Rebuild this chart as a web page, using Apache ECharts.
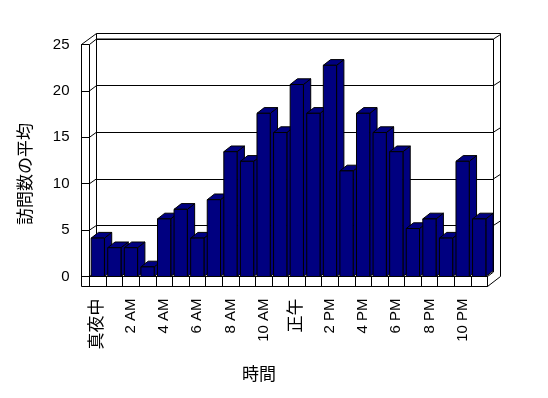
<!DOCTYPE html>
<html>
<head>
<meta charset="utf-8">
<title>時間別の訪問数</title>
<script src="https://cdn.jsdelivr.net/npm/echarts@6/dist/echarts.min.js"></script>
<style>
  html, body { margin: 0; padding: 0; background: #fff; }
  #main { width: 548px; height: 398px; }
</style>
</head>
<body>
<div id="main"></div>
<script>
// データ
var hours = ['真夜中', '1 AM', '2 AM', '3 AM', '4 AM', '5 AM', '6 AM', '7 AM', '8 AM', '9 AM', '10 AM', '11 AM',
    '正午', '1 PM', '2 PM', '3 PM', '4 PM', '5 PM', '6 PM', '7 PM', '8 PM', '9 PM', '10 PM', '11 PM'];
var visits = [4, 3, 3, 1, 6, 7, 4, 8, 13, 12, 17, 15, 20, 17, 22, 11, 17, 15, 13, 5, 6, 4, 12, 6];
var yTicks = [0, 5, 10, 15, 20, 25];

var FONT = "'Liberation Sans', 'Noto Sans CJK JP', sans-serif";
var W = 548, H = 398;

// 壁と床の位置
var frontX = 81.5, wallX = 89.5, backX = 96.5;
var backRight = 493.5, outerRight = 500.5, floorRight = 487.5;
var outerTop = 33.5, backTop = 39, frontTop = 44.5;
var floorY = 276.5, floorFront = 286.5, backBottom = 272;
var depthX = 7.3, depthY = -5.7;

var myChart = echarts.init(document.getElementById('main'));

function renderBar(params, api) {
    var base = api.coord([api.value(0), 0]);
    var top = api.coord([api.value(0), api.value(1)]);
    var bw = api.size([1, 0])[0] * 0.8;
    var x0 = base[0] - bw / 2, x1 = base[0] + bw / 2;
    var y0 = base[1], y1 = top[1];
    var style = {fill: '#000080', stroke: '#000', lineWidth: 1};
    return {
        type: 'group',
        children: [
            {type: 'polygon', shape: {points: [[x1, y0], [x1 + depthX, y0 + depthY], [x1 + depthX, y1 + depthY], [x1, y1]]}, style: style},
            {type: 'polygon', shape: {points: [[x0, y1], [x0 + depthX, y1 + depthY], [x1 + depthX, y1 + depthY], [x1, y1]]}, style: style},
            {type: 'rect', shape: {x: x0, y: y1, width: bw, height: y0 - y1}, style: style}
        ]
    };
}

var option = {
    animation: false,
    textStyle: {fontFamily: FONT},
    grid: [
        // 奥の壁
        {left: backX, top: backTop, width: backRight - backX, height: backBottom - backTop},
        // 手前の軸
        {left: frontX, top: frontTop, width: wallX - frontX, height: floorY - frontTop},
        // 棒
        {left: wallX, top: floorY - 240, width: floorRight - wallX, height: 240}
    ],
    xAxis: [
        {gridIndex: 0, type: 'category', data: hours, show: false},
        {gridIndex: 1, type: 'category', data: [''], show: false},
        {
            gridIndex: 2,
            type: 'category',
            data: hours,
            axisLine: {lineStyle: {color: '#000', width: 1}},
            axisTick: {show: true, interval: 0, length: 10, lineStyle: {color: '#000'}},
            axisLabel: {
                interval: 1,
                rotate: 90,
                margin: 22,
                color: '#000',
                fontSize: 15,
                fontFamily: FONT,
                formatter: function (v) {
                    return /[^\x00-\x7f]/.test(v) ? '{j|' + v + '}' : v;
                },
                rich: {j: {fontSize: 17, fontFamily: FONT}}
            }
        }
    ],
    yAxis: [
        {
            gridIndex: 0, type: 'value', min: 0, max: 25, interval: 5,
            axisLine: {show: false}, axisTick: {show: false}, axisLabel: {show: false},
            splitLine: {lineStyle: {color: ['rgba(0,0,0,0)', '#000', '#000', '#000', '#000', '#000'], width: 1}}
        },
        {
            gridIndex: 1, type: 'value', min: 0, max: 25, interval: 5,
            axisLine: {show: true, lineStyle: {color: '#000'}},
            axisTick: {show: true, inside: true, length: wallX - frontX, lineStyle: {color: '#000'}},
            axisLabel: {color: '#000', fontSize: 15, margin: 12, fontFamily: FONT},
            splitLine: {show: false}
        },
        {gridIndex: 2, type: 'value', min: 0, max: 25, show: false}
    ],
    series: [{
        name: '訪問数の平均',
        type: 'custom',
        xAxisIndex: 2,
        yAxisIndex: 2,
        renderItem: renderBar,
        encode: {x: 0, y: 1},
        data: hours.map(function (h, i) { return [i, visits[i]]; }),
        z: 5
    }]
};
myChart.setOption(option);

// 枠線
function seg(x1, y1, x2, y2) {
    return {type: 'line', z: 1, silent: true, shape: {x1: x1, y1: y1, x2: x2, y2: y2}, style: {stroke: '#000', lineWidth: 1}};
}
var frame = [
    seg(frontX, frontTop, frontX, floorFront),
    seg(frontX, frontTop, backX, outerTop),
    seg(backX, outerTop, outerRight, outerTop),
    seg(backX, outerTop, backX, backBottom),
    seg(wallX, frontTop, wallX, floorY),
    seg(backX, backTop, backRight, backTop),
    seg(backRight, backTop, backRight, backBottom),
    seg(outerRight, outerTop, outerRight, floorY),
    seg(frontX, floorFront, floorRight, floorFront),
    seg(floorRight, floorY, floorRight, floorFront),
    seg(floorRight, floorFront, outerRight, floorY),
    seg(floorRight, floorY, backRight, backBottom)
];
yTicks.forEach(function (v) {
    var yf = myChart.convertToPixel({yAxisIndex: 1}, v);
    var yb = myChart.convertToPixel({yAxisIndex: 0}, v);
    frame.push(seg(wallX, yf, backX, yb));
    if (v > 0) {
        frame.push(seg(backRight, yb, outerRight, yb - 4.5));
    }
});
frame.push({
    type: 'text', z: 1, x: 26, y: 174, rotation: Math.PI / 2,
    style: {text: '訪問数の平均', fill: '#000', font: '17px ' + FONT, textAlign: 'center', textVerticalAlign: 'middle'}
});
frame.push({
    type: 'text', z: 1, x: 259, y: 375,
    style: {text: '時間', fill: '#000', font: '17px ' + FONT, textAlign: 'center', textVerticalAlign: 'middle'}
});
myChart.setOption({graphic: frame});
</script>
</body>
</html>
